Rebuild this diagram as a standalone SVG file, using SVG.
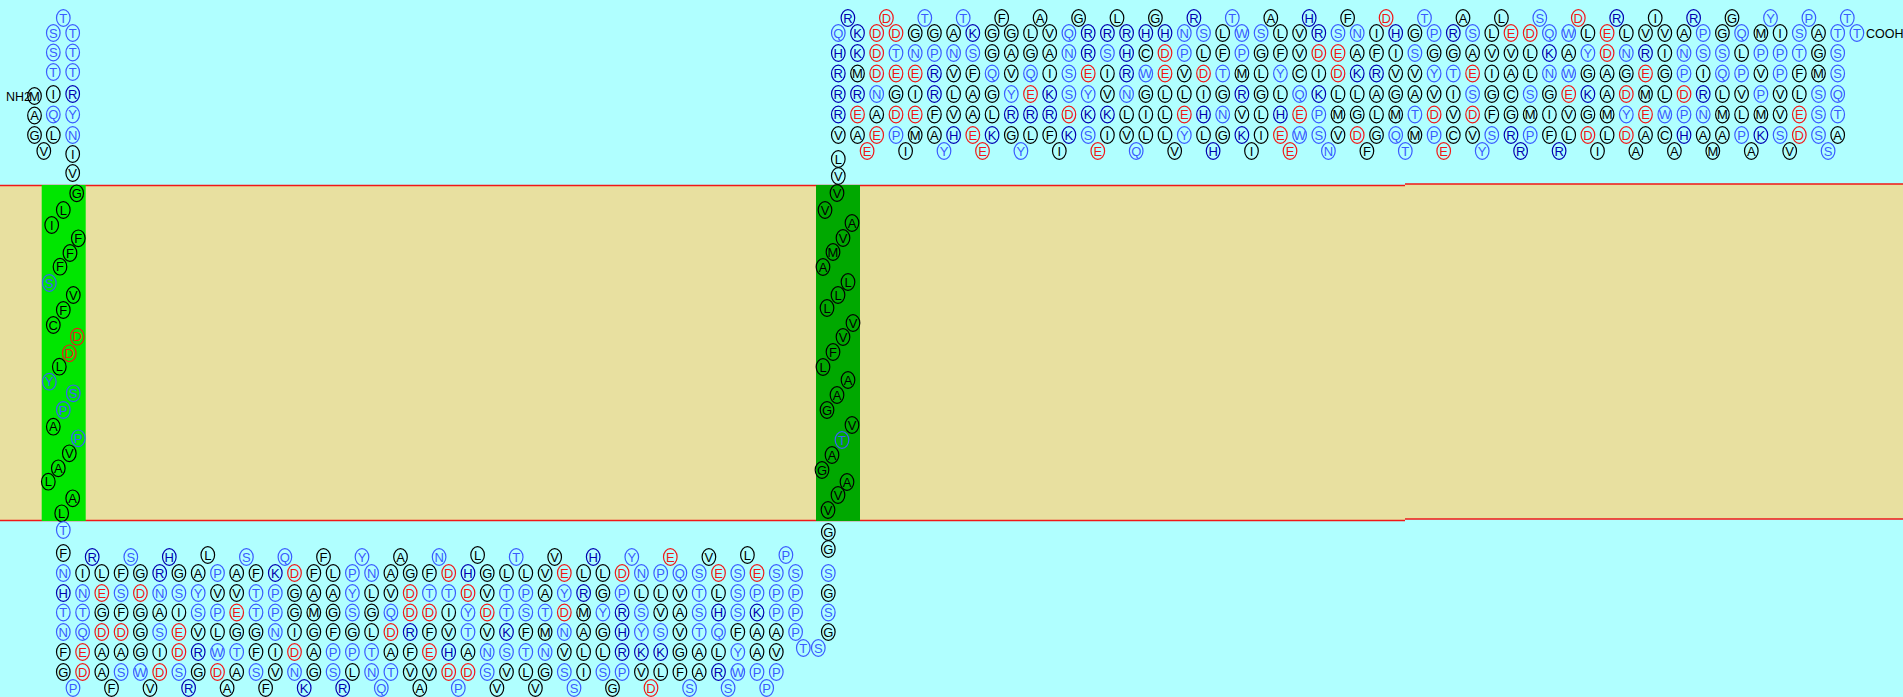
<svg xmlns="http://www.w3.org/2000/svg" xmlns:xlink="http://www.w3.org/1999/xlink" width="1903" height="697" viewBox="0 0 1903 697">
<style>
text{font-family:"Liberation Sans",Arial,sans-serif;font-size:13px;text-anchor:middle}
.k use{stroke:#000}.k text{fill:#000}
.b use{stroke:#3a5cff}.b text{fill:#3a5cff}
.d use{stroke:#0000b0}.d text{fill:#0000b0}
.r use{stroke:#f01818}.r text{fill:#f01818}
.lbl{text-anchor:start;fill:#000;font-size:12.5px}
</style>
<defs><ellipse id="o" rx="6.8" ry="8.3" fill="none" stroke-width="1.2"/></defs>
<g id="background">
<rect x="0" y="0" width="1903" height="697" fill="#b0ffff"/>
<rect x="0" y="185.5" width="1405" height="335" fill="#e8e0a0"/>
<rect x="1405" y="184" width="498" height="335" fill="#e8e0a0"/>
<path d="M0 185.5H1405M1405 184H1903M0 520.5H1405M1405 519H1903" stroke="#f01818" stroke-width="1.5" fill="none"/>
<rect id="tm1" x="41.7" y="185" width="44" height="336" fill="#00e600"/>
<rect id="tm2" x="816" y="185" width="44" height="336" fill="#00a800"/>
</g>
<g id="connectors"></g>
<g id="labels"><text class="lbl" x="6" y="101">NH2</text><text class="lbl" x="1866" y="38">COOH</text></g>
<g id="nterm">
<g id="n1" class="k" transform="translate(34.5 96)"><use href="#o"/><text y="4.5">M</text></g>
<g id="n2" class="k" transform="translate(34.5 115.5)"><use href="#o"/><text y="4.5">A</text></g>
<g id="n3" class="k" transform="translate(34.5 135)"><use href="#o"/><text y="4.5">G</text></g>
<g id="n4" class="k" transform="translate(43.8 151)"><use href="#o"/><text y="4.5">V</text></g>
<g id="n5" class="k" transform="translate(53.3 135)"><use href="#o"/><text y="4.5">L</text></g>
<g id="n6" class="b" transform="translate(53.3 114.5)"><use href="#o"/><text y="4.5">Q</text></g>
<g id="n7" class="k" transform="translate(53.3 94)"><use href="#o"/><text y="4.5">I</text></g>
<g id="n8" class="b" transform="translate(53.3 72)"><use href="#o"/><text y="4.5">T</text></g>
<g id="n9" class="b" transform="translate(53.3 52.5)"><use href="#o"/><text y="4.5">S</text></g>
<g id="n10" class="b" transform="translate(53.3 33)"><use href="#o"/><text y="4.5">S</text></g>
<g id="n11" class="b" transform="translate(63.3 18)"><use href="#o"/><text y="4.5">T</text></g>
<g id="n12" class="b" transform="translate(72.7 33)"><use href="#o"/><text y="4.5">T</text></g>
<g id="n13" class="b" transform="translate(72.7 52.5)"><use href="#o"/><text y="4.5">T</text></g>
<g id="n14" class="b" transform="translate(72.7 72)"><use href="#o"/><text y="4.5">T</text></g>
<g id="n15" class="d" transform="translate(72.7 94)"><use href="#o"/><text y="4.5">R</text></g>
<g id="n16" class="b" transform="translate(72.7 114.5)"><use href="#o"/><text y="4.5">Y</text></g>
<g id="n17" class="b" transform="translate(72.7 135)"><use href="#o"/><text y="4.5">N</text></g>
<g id="n18" class="k" transform="translate(72.7 154)"><use href="#o"/><text y="4.5">I</text></g>
<g id="n19" class="k" transform="translate(72.7 173)"><use href="#o"/><text y="4.5">V</text></g>
</g>
<g id="helix1">
<g id="h1_1" class="k" transform="translate(76.7 193.3)"><use href="#o"/><text y="4.5">G</text></g>
<g id="h1_2" class="k" transform="translate(63.3 210)"><use href="#o"/><text y="4.5">L</text></g>
<g id="h1_3" class="k" transform="translate(51.7 225)"><use href="#o"/><text y="4.5">I</text></g>
<g id="h1_4" class="k" transform="translate(78.3 238.3)"><use href="#o"/><text y="4.5">F</text></g>
<g id="h1_5" class="k" transform="translate(70 253)"><use href="#o"/><text y="4.5">F</text></g>
<g id="h1_6" class="k" transform="translate(60 266.7)"><use href="#o"/><text y="4.5">F</text></g>
<g id="h1_7" class="b" transform="translate(49.3 283)"><use href="#o"/><text y="4.5">S</text></g>
<g id="h1_8" class="k" transform="translate(73.3 295)"><use href="#o"/><text y="4.5">V</text></g>
<g id="h1_9" class="k" transform="translate(63.3 310)"><use href="#o"/><text y="4.5">F</text></g>
<g id="h1_10" class="k" transform="translate(53.3 325)"><use href="#o"/><text y="4.5">C</text></g>
<g id="h1_11" class="r" transform="translate(77.3 336.7)"><use href="#o"/><text y="4.5">D</text></g>
<g id="h1_12" class="r" transform="translate(69.3 353.3)"><use href="#o"/><text y="4.5">D</text></g>
<g id="h1_13" class="k" transform="translate(59.3 366.7)"><use href="#o"/><text y="4.5">L</text></g>
<g id="h1_14" class="b" transform="translate(49.3 381.7)"><use href="#o"/><text y="4.5">Y</text></g>
<g id="h1_15" class="b" transform="translate(73.3 393.3)"><use href="#o"/><text y="4.5">S</text></g>
<g id="h1_16" class="b" transform="translate(63.3 410)"><use href="#o"/><text y="4.5">P</text></g>
<g id="h1_17" class="k" transform="translate(53.3 426.7)"><use href="#o"/><text y="4.5">A</text></g>
<g id="h1_18" class="b" transform="translate(78.3 438.3)"><use href="#o"/><text y="4.5">P</text></g>
<g id="h1_19" class="k" transform="translate(69.3 453.3)"><use href="#o"/><text y="4.5">V</text></g>
<g id="h1_20" class="k" transform="translate(58.3 468.3)"><use href="#o"/><text y="4.5">A</text></g>
<g id="h1_21" class="k" transform="translate(48.3 481.7)"><use href="#o"/><text y="4.5">L</text></g>
<g id="h1_22" class="k" transform="translate(72.7 498.3)"><use href="#o"/><text y="4.5">A</text></g>
<g id="h1_23" class="k" transform="translate(61.7 513.3)"><use href="#o"/><text y="4.5">L</text></g>
</g>
<g id="loop">
<g id="i1" class="b" transform="translate(63.3 530)"><use href="#o"/><text y="4.5">T</text></g>
<g id="i2" class="k" transform="translate(63.3 553)"><use href="#o"/><text y="4.5">F</text></g>
<g id="i3" class="b" transform="translate(63.3 573)"><use href="#o"/><text y="4.5">N</text></g>
<g id="i4" class="d" transform="translate(63.3 593)"><use href="#o"/><text y="4.5">H</text></g>
<g id="i5" class="b" transform="translate(63.3 612.5)"><use href="#o"/><text y="4.5">T</text></g>
<g id="i6" class="b" transform="translate(63.3 632)"><use href="#o"/><text y="4.5">N</text></g>
<g id="i7" class="k" transform="translate(63.3 652)"><use href="#o"/><text y="4.5">F</text></g>
<g id="i8" class="k" transform="translate(63.3 672)"><use href="#o"/><text y="4.5">G</text></g>
<g id="i9" class="b" transform="translate(73 688)"><use href="#o"/><text y="4.5">P</text></g>
<g id="i10" class="r" transform="translate(82.6 672)"><use href="#o"/><text y="4.5">D</text></g>
<g id="i11" class="r" transform="translate(82.6 652)"><use href="#o"/><text y="4.5">E</text></g>
<g id="i12" class="b" transform="translate(82.6 632)"><use href="#o"/><text y="4.5">Q</text></g>
<g id="i13" class="b" transform="translate(82.6 612.5)"><use href="#o"/><text y="4.5">T</text></g>
<g id="i14" class="b" transform="translate(82.6 593)"><use href="#o"/><text y="4.5">N</text></g>
<g id="i15" class="k" transform="translate(82.6 573)"><use href="#o"/><text y="4.5">I</text></g>
<g id="i16" class="d" transform="translate(92.2 557)"><use href="#o"/><text y="4.5">R</text></g>
<g id="i17" class="k" transform="translate(101.8 573)"><use href="#o"/><text y="4.5">L</text></g>
<g id="i18" class="r" transform="translate(101.8 593)"><use href="#o"/><text y="4.5">E</text></g>
<g id="i19" class="k" transform="translate(101.8 612.5)"><use href="#o"/><text y="4.5">G</text></g>
<g id="i20" class="r" transform="translate(101.8 632)"><use href="#o"/><text y="4.5">D</text></g>
<g id="i21" class="k" transform="translate(101.8 652)"><use href="#o"/><text y="4.5">A</text></g>
<g id="i22" class="k" transform="translate(101.8 672)"><use href="#o"/><text y="4.5">A</text></g>
<g id="i23" class="k" transform="translate(111.5 688)"><use href="#o"/><text y="4.5">F</text></g>
<g id="i24" class="b" transform="translate(121.1 672)"><use href="#o"/><text y="4.5">S</text></g>
<g id="i25" class="k" transform="translate(121.1 652)"><use href="#o"/><text y="4.5">A</text></g>
<g id="i26" class="r" transform="translate(121.1 632)"><use href="#o"/><text y="4.5">D</text></g>
<g id="i27" class="k" transform="translate(121.1 612.5)"><use href="#o"/><text y="4.5">F</text></g>
<g id="i28" class="b" transform="translate(121.1 593)"><use href="#o"/><text y="4.5">S</text></g>
<g id="i29" class="k" transform="translate(121.1 573)"><use href="#o"/><text y="4.5">F</text></g>
<g id="i30" class="b" transform="translate(130.8 557)"><use href="#o"/><text y="4.5">S</text></g>
<g id="i31" class="k" transform="translate(140.4 573)"><use href="#o"/><text y="4.5">G</text></g>
<g id="i32" class="r" transform="translate(140.4 593)"><use href="#o"/><text y="4.5">D</text></g>
<g id="i33" class="k" transform="translate(140.4 612.5)"><use href="#o"/><text y="4.5">G</text></g>
<g id="i34" class="k" transform="translate(140.4 632)"><use href="#o"/><text y="4.5">G</text></g>
<g id="i35" class="k" transform="translate(140.4 652)"><use href="#o"/><text y="4.5">G</text></g>
<g id="i36" class="b" transform="translate(140.4 672)"><use href="#o"/><text y="4.5">W</text></g>
<g id="i37" class="k" transform="translate(150 688)"><use href="#o"/><text y="4.5">V</text></g>
<g id="i38" class="r" transform="translate(159.7 672)"><use href="#o"/><text y="4.5">D</text></g>
<g id="i39" class="k" transform="translate(159.7 652)"><use href="#o"/><text y="4.5">I</text></g>
<g id="i40" class="b" transform="translate(159.7 632)"><use href="#o"/><text y="4.5">S</text></g>
<g id="i41" class="k" transform="translate(159.7 612.5)"><use href="#o"/><text y="4.5">A</text></g>
<g id="i42" class="b" transform="translate(159.7 593)"><use href="#o"/><text y="4.5">N</text></g>
<g id="i43" class="d" transform="translate(159.7 573)"><use href="#o"/><text y="4.5">R</text></g>
<g id="i44" class="d" transform="translate(169.3 557)"><use href="#o"/><text y="4.5">H</text></g>
<g id="i45" class="k" transform="translate(178.9 573)"><use href="#o"/><text y="4.5">G</text></g>
<g id="i46" class="b" transform="translate(178.9 593)"><use href="#o"/><text y="4.5">S</text></g>
<g id="i47" class="k" transform="translate(178.9 612.5)"><use href="#o"/><text y="4.5">I</text></g>
<g id="i48" class="r" transform="translate(178.9 632)"><use href="#o"/><text y="4.5">E</text></g>
<g id="i49" class="r" transform="translate(178.9 652)"><use href="#o"/><text y="4.5">D</text></g>
<g id="i50" class="b" transform="translate(178.9 672)"><use href="#o"/><text y="4.5">S</text></g>
<g id="i51" class="d" transform="translate(188.6 688)"><use href="#o"/><text y="4.5">R</text></g>
<g id="i52" class="k" transform="translate(198.2 672)"><use href="#o"/><text y="4.5">G</text></g>
<g id="i53" class="d" transform="translate(198.2 652)"><use href="#o"/><text y="4.5">R</text></g>
<g id="i54" class="k" transform="translate(198.2 632)"><use href="#o"/><text y="4.5">V</text></g>
<g id="i55" class="b" transform="translate(198.2 612.5)"><use href="#o"/><text y="4.5">S</text></g>
<g id="i56" class="b" transform="translate(198.2 593)"><use href="#o"/><text y="4.5">Y</text></g>
<g id="i57" class="k" transform="translate(198.2 573)"><use href="#o"/><text y="4.5">A</text></g>
<g id="i58" class="k" transform="translate(207.8 555)"><use href="#o"/><text y="4.5">L</text></g>
<g id="i59" class="b" transform="translate(217.5 573)"><use href="#o"/><text y="4.5">P</text></g>
<g id="i60" class="k" transform="translate(217.5 593)"><use href="#o"/><text y="4.5">V</text></g>
<g id="i61" class="b" transform="translate(217.5 612.5)"><use href="#o"/><text y="4.5">P</text></g>
<g id="i62" class="k" transform="translate(217.5 632)"><use href="#o"/><text y="4.5">L</text></g>
<g id="i63" class="b" transform="translate(217.5 652)"><use href="#o"/><text y="4.5">W</text></g>
<g id="i64" class="r" transform="translate(217.5 672)"><use href="#o"/><text y="4.5">D</text></g>
<g id="i65" class="k" transform="translate(227.1 688)"><use href="#o"/><text y="4.5">A</text></g>
<g id="i66" class="k" transform="translate(236.7 672)"><use href="#o"/><text y="4.5">A</text></g>
<g id="i67" class="b" transform="translate(236.7 652)"><use href="#o"/><text y="4.5">T</text></g>
<g id="i68" class="k" transform="translate(236.7 632)"><use href="#o"/><text y="4.5">G</text></g>
<g id="i69" class="r" transform="translate(236.7 612.5)"><use href="#o"/><text y="4.5">E</text></g>
<g id="i70" class="k" transform="translate(236.7 593)"><use href="#o"/><text y="4.5">V</text></g>
<g id="i71" class="k" transform="translate(236.7 573)"><use href="#o"/><text y="4.5">A</text></g>
<g id="i72" class="b" transform="translate(246.4 557)"><use href="#o"/><text y="4.5">S</text></g>
<g id="i73" class="k" transform="translate(256 573)"><use href="#o"/><text y="4.5">F</text></g>
<g id="i74" class="b" transform="translate(256 593)"><use href="#o"/><text y="4.5">T</text></g>
<g id="i75" class="b" transform="translate(256 612.5)"><use href="#o"/><text y="4.5">T</text></g>
<g id="i76" class="k" transform="translate(256 632)"><use href="#o"/><text y="4.5">G</text></g>
<g id="i77" class="k" transform="translate(256 652)"><use href="#o"/><text y="4.5">F</text></g>
<g id="i78" class="b" transform="translate(256 672)"><use href="#o"/><text y="4.5">S</text></g>
<g id="i79" class="k" transform="translate(265.6 688)"><use href="#o"/><text y="4.5">F</text></g>
<g id="i80" class="k" transform="translate(275.3 672)"><use href="#o"/><text y="4.5">V</text></g>
<g id="i81" class="k" transform="translate(275.3 652)"><use href="#o"/><text y="4.5">I</text></g>
<g id="i82" class="b" transform="translate(275.3 632)"><use href="#o"/><text y="4.5">N</text></g>
<g id="i83" class="b" transform="translate(275.3 612.5)"><use href="#o"/><text y="4.5">P</text></g>
<g id="i84" class="b" transform="translate(275.3 593)"><use href="#o"/><text y="4.5">P</text></g>
<g id="i85" class="d" transform="translate(275.3 573)"><use href="#o"/><text y="4.5">K</text></g>
<g id="i86" class="b" transform="translate(284.9 557)"><use href="#o"/><text y="4.5">Q</text></g>
<g id="i87" class="r" transform="translate(294.5 573)"><use href="#o"/><text y="4.5">D</text></g>
<g id="i88" class="k" transform="translate(294.5 593)"><use href="#o"/><text y="4.5">G</text></g>
<g id="i89" class="k" transform="translate(294.5 612.5)"><use href="#o"/><text y="4.5">G</text></g>
<g id="i90" class="k" transform="translate(294.5 632)"><use href="#o"/><text y="4.5">I</text></g>
<g id="i91" class="r" transform="translate(294.5 652)"><use href="#o"/><text y="4.5">D</text></g>
<g id="i92" class="b" transform="translate(294.5 672)"><use href="#o"/><text y="4.5">N</text></g>
<g id="i93" class="d" transform="translate(304.2 688)"><use href="#o"/><text y="4.5">K</text></g>
<g id="i94" class="k" transform="translate(313.8 672)"><use href="#o"/><text y="4.5">G</text></g>
<g id="i95" class="k" transform="translate(313.8 652)"><use href="#o"/><text y="4.5">A</text></g>
<g id="i96" class="k" transform="translate(313.8 632)"><use href="#o"/><text y="4.5">G</text></g>
<g id="i97" class="k" transform="translate(313.8 612.5)"><use href="#o"/><text y="4.5">M</text></g>
<g id="i98" class="k" transform="translate(313.8 593)"><use href="#o"/><text y="4.5">A</text></g>
<g id="i99" class="k" transform="translate(313.8 573)"><use href="#o"/><text y="4.5">F</text></g>
<g id="i100" class="k" transform="translate(323.5 557)"><use href="#o"/><text y="4.5">F</text></g>
<g id="i101" class="k" transform="translate(333.1 573)"><use href="#o"/><text y="4.5">L</text></g>
<g id="i102" class="k" transform="translate(333.1 593)"><use href="#o"/><text y="4.5">A</text></g>
<g id="i103" class="k" transform="translate(333.1 612.5)"><use href="#o"/><text y="4.5">G</text></g>
<g id="i104" class="k" transform="translate(333.1 632)"><use href="#o"/><text y="4.5">F</text></g>
<g id="i105" class="b" transform="translate(333.1 652)"><use href="#o"/><text y="4.5">P</text></g>
<g id="i106" class="b" transform="translate(333.1 672)"><use href="#o"/><text y="4.5">S</text></g>
<g id="i107" class="d" transform="translate(342.7 688)"><use href="#o"/><text y="4.5">R</text></g>
<g id="i108" class="k" transform="translate(352.4 672)"><use href="#o"/><text y="4.5">L</text></g>
<g id="i109" class="b" transform="translate(352.4 652)"><use href="#o"/><text y="4.5">P</text></g>
<g id="i110" class="k" transform="translate(352.4 632)"><use href="#o"/><text y="4.5">G</text></g>
<g id="i111" class="b" transform="translate(352.4 612.5)"><use href="#o"/><text y="4.5">S</text></g>
<g id="i112" class="b" transform="translate(352.4 593)"><use href="#o"/><text y="4.5">Y</text></g>
<g id="i113" class="b" transform="translate(352.4 573)"><use href="#o"/><text y="4.5">P</text></g>
<g id="i114" class="b" transform="translate(362 557)"><use href="#o"/><text y="4.5">Y</text></g>
<g id="i115" class="b" transform="translate(371.6 573)"><use href="#o"/><text y="4.5">N</text></g>
<g id="i116" class="k" transform="translate(371.6 593)"><use href="#o"/><text y="4.5">L</text></g>
<g id="i117" class="k" transform="translate(371.6 612.5)"><use href="#o"/><text y="4.5">G</text></g>
<g id="i118" class="k" transform="translate(371.6 632)"><use href="#o"/><text y="4.5">L</text></g>
<g id="i119" class="b" transform="translate(371.6 652)"><use href="#o"/><text y="4.5">T</text></g>
<g id="i120" class="b" transform="translate(371.6 672)"><use href="#o"/><text y="4.5">N</text></g>
<g id="i121" class="b" transform="translate(381.3 688)"><use href="#o"/><text y="4.5">Q</text></g>
<g id="i122" class="b" transform="translate(390.9 672)"><use href="#o"/><text y="4.5">T</text></g>
<g id="i123" class="k" transform="translate(390.9 652)"><use href="#o"/><text y="4.5">A</text></g>
<g id="i124" class="r" transform="translate(390.9 632)"><use href="#o"/><text y="4.5">D</text></g>
<g id="i125" class="b" transform="translate(390.9 612.5)"><use href="#o"/><text y="4.5">Q</text></g>
<g id="i126" class="k" transform="translate(390.9 593)"><use href="#o"/><text y="4.5">V</text></g>
<g id="i127" class="k" transform="translate(390.9 573)"><use href="#o"/><text y="4.5">A</text></g>
<g id="i128" class="k" transform="translate(400.5 557)"><use href="#o"/><text y="4.5">A</text></g>
<g id="i129" class="k" transform="translate(410.2 573)"><use href="#o"/><text y="4.5">G</text></g>
<g id="i130" class="r" transform="translate(410.2 593)"><use href="#o"/><text y="4.5">D</text></g>
<g id="i131" class="r" transform="translate(410.2 612.5)"><use href="#o"/><text y="4.5">D</text></g>
<g id="i132" class="d" transform="translate(410.2 632)"><use href="#o"/><text y="4.5">R</text></g>
<g id="i133" class="k" transform="translate(410.2 652)"><use href="#o"/><text y="4.5">F</text></g>
<g id="i134" class="k" transform="translate(410.2 672)"><use href="#o"/><text y="4.5">V</text></g>
<g id="i135" class="k" transform="translate(419.8 688)"><use href="#o"/><text y="4.5">A</text></g>
<g id="i136" class="k" transform="translate(429.4 672)"><use href="#o"/><text y="4.5">V</text></g>
<g id="i137" class="r" transform="translate(429.4 652)"><use href="#o"/><text y="4.5">E</text></g>
<g id="i138" class="k" transform="translate(429.4 632)"><use href="#o"/><text y="4.5">F</text></g>
<g id="i139" class="r" transform="translate(429.4 612.5)"><use href="#o"/><text y="4.5">D</text></g>
<g id="i140" class="b" transform="translate(429.4 593)"><use href="#o"/><text y="4.5">T</text></g>
<g id="i141" class="k" transform="translate(429.4 573)"><use href="#o"/><text y="4.5">F</text></g>
<g id="i142" class="b" transform="translate(439.1 557)"><use href="#o"/><text y="4.5">N</text></g>
<g id="i143" class="r" transform="translate(448.7 573)"><use href="#o"/><text y="4.5">D</text></g>
<g id="i144" class="b" transform="translate(448.7 593)"><use href="#o"/><text y="4.5">T</text></g>
<g id="i145" class="k" transform="translate(448.7 612.5)"><use href="#o"/><text y="4.5">I</text></g>
<g id="i146" class="k" transform="translate(448.7 632)"><use href="#o"/><text y="4.5">V</text></g>
<g id="i147" class="d" transform="translate(448.7 652)"><use href="#o"/><text y="4.5">H</text></g>
<g id="i148" class="r" transform="translate(448.7 672)"><use href="#o"/><text y="4.5">D</text></g>
<g id="i149" class="b" transform="translate(458.3 688)"><use href="#o"/><text y="4.5">P</text></g>
<g id="i150" class="r" transform="translate(468 672)"><use href="#o"/><text y="4.5">D</text></g>
<g id="i151" class="k" transform="translate(468 652)"><use href="#o"/><text y="4.5">A</text></g>
<g id="i152" class="b" transform="translate(468 632)"><use href="#o"/><text y="4.5">T</text></g>
<g id="i153" class="b" transform="translate(468 612.5)"><use href="#o"/><text y="4.5">Y</text></g>
<g id="i154" class="r" transform="translate(468 593)"><use href="#o"/><text y="4.5">D</text></g>
<g id="i155" class="d" transform="translate(468 573)"><use href="#o"/><text y="4.5">H</text></g>
<g id="i156" class="k" transform="translate(477.6 555)"><use href="#o"/><text y="4.5">L</text></g>
<g id="i157" class="k" transform="translate(487.2 573)"><use href="#o"/><text y="4.5">G</text></g>
<g id="i158" class="k" transform="translate(487.2 593)"><use href="#o"/><text y="4.5">V</text></g>
<g id="i159" class="r" transform="translate(487.2 612.5)"><use href="#o"/><text y="4.5">D</text></g>
<g id="i160" class="k" transform="translate(487.2 632)"><use href="#o"/><text y="4.5">V</text></g>
<g id="i161" class="b" transform="translate(487.2 652)"><use href="#o"/><text y="4.5">N</text></g>
<g id="i162" class="b" transform="translate(487.2 672)"><use href="#o"/><text y="4.5">S</text></g>
<g id="i163" class="k" transform="translate(496.9 688)"><use href="#o"/><text y="4.5">V</text></g>
<g id="i164" class="k" transform="translate(506.5 672)"><use href="#o"/><text y="4.5">V</text></g>
<g id="i165" class="b" transform="translate(506.5 652)"><use href="#o"/><text y="4.5">S</text></g>
<g id="i166" class="d" transform="translate(506.5 632)"><use href="#o"/><text y="4.5">K</text></g>
<g id="i167" class="b" transform="translate(506.5 612.5)"><use href="#o"/><text y="4.5">T</text></g>
<g id="i168" class="b" transform="translate(506.5 593)"><use href="#o"/><text y="4.5">T</text></g>
<g id="i169" class="k" transform="translate(506.5 573)"><use href="#o"/><text y="4.5">L</text></g>
<g id="i170" class="b" transform="translate(516.2 557)"><use href="#o"/><text y="4.5">T</text></g>
<g id="i171" class="k" transform="translate(525.8 573)"><use href="#o"/><text y="4.5">L</text></g>
<g id="i172" class="b" transform="translate(525.8 593)"><use href="#o"/><text y="4.5">P</text></g>
<g id="i173" class="b" transform="translate(525.8 612.5)"><use href="#o"/><text y="4.5">S</text></g>
<g id="i174" class="k" transform="translate(525.8 632)"><use href="#o"/><text y="4.5">F</text></g>
<g id="i175" class="b" transform="translate(525.8 652)"><use href="#o"/><text y="4.5">T</text></g>
<g id="i176" class="k" transform="translate(525.8 672)"><use href="#o"/><text y="4.5">L</text></g>
<g id="i177" class="k" transform="translate(535.4 688)"><use href="#o"/><text y="4.5">V</text></g>
<g id="i178" class="k" transform="translate(545.1 672)"><use href="#o"/><text y="4.5">G</text></g>
<g id="i179" class="b" transform="translate(545.1 652)"><use href="#o"/><text y="4.5">N</text></g>
<g id="i180" class="k" transform="translate(545.1 632)"><use href="#o"/><text y="4.5">M</text></g>
<g id="i181" class="b" transform="translate(545.1 612.5)"><use href="#o"/><text y="4.5">T</text></g>
<g id="i182" class="k" transform="translate(545.1 593)"><use href="#o"/><text y="4.5">A</text></g>
<g id="i183" class="k" transform="translate(545.1 573)"><use href="#o"/><text y="4.5">V</text></g>
<g id="i184" class="k" transform="translate(554.7 557)"><use href="#o"/><text y="4.5">V</text></g>
<g id="i185" class="r" transform="translate(564.3 573)"><use href="#o"/><text y="4.5">E</text></g>
<g id="i186" class="b" transform="translate(564.3 593)"><use href="#o"/><text y="4.5">Y</text></g>
<g id="i187" class="r" transform="translate(564.3 612.5)"><use href="#o"/><text y="4.5">D</text></g>
<g id="i188" class="b" transform="translate(564.3 632)"><use href="#o"/><text y="4.5">N</text></g>
<g id="i189" class="k" transform="translate(564.3 652)"><use href="#o"/><text y="4.5">V</text></g>
<g id="i190" class="b" transform="translate(564.3 672)"><use href="#o"/><text y="4.5">S</text></g>
<g id="i191" class="b" transform="translate(574 688)"><use href="#o"/><text y="4.5">S</text></g>
<g id="i192" class="k" transform="translate(583.6 672)"><use href="#o"/><text y="4.5">I</text></g>
<g id="i193" class="k" transform="translate(583.6 652)"><use href="#o"/><text y="4.5">L</text></g>
<g id="i194" class="k" transform="translate(583.6 632)"><use href="#o"/><text y="4.5">A</text></g>
<g id="i195" class="k" transform="translate(583.6 612.5)"><use href="#o"/><text y="4.5">M</text></g>
<g id="i196" class="d" transform="translate(583.6 593)"><use href="#o"/><text y="4.5">R</text></g>
<g id="i197" class="k" transform="translate(583.6 573)"><use href="#o"/><text y="4.5">L</text></g>
<g id="i198" class="d" transform="translate(593.2 557)"><use href="#o"/><text y="4.5">H</text></g>
<g id="i199" class="k" transform="translate(602.9 573)"><use href="#o"/><text y="4.5">L</text></g>
<g id="i200" class="k" transform="translate(602.9 593)"><use href="#o"/><text y="4.5">G</text></g>
<g id="i201" class="b" transform="translate(602.9 612.5)"><use href="#o"/><text y="4.5">Y</text></g>
<g id="i202" class="k" transform="translate(602.9 632)"><use href="#o"/><text y="4.5">G</text></g>
<g id="i203" class="k" transform="translate(602.9 652)"><use href="#o"/><text y="4.5">L</text></g>
<g id="i204" class="b" transform="translate(602.9 672)"><use href="#o"/><text y="4.5">S</text></g>
<g id="i205" class="k" transform="translate(612.5 688)"><use href="#o"/><text y="4.5">G</text></g>
<g id="i206" class="b" transform="translate(622.1 672)"><use href="#o"/><text y="4.5">P</text></g>
<g id="i207" class="d" transform="translate(622.1 652)"><use href="#o"/><text y="4.5">R</text></g>
<g id="i208" class="d" transform="translate(622.1 632)"><use href="#o"/><text y="4.5">H</text></g>
<g id="i209" class="d" transform="translate(622.1 612.5)"><use href="#o"/><text y="4.5">R</text></g>
<g id="i210" class="b" transform="translate(622.1 593)"><use href="#o"/><text y="4.5">P</text></g>
<g id="i211" class="r" transform="translate(622.1 573)"><use href="#o"/><text y="4.5">D</text></g>
<g id="i212" class="b" transform="translate(631.8 557)"><use href="#o"/><text y="4.5">Y</text></g>
<g id="i213" class="b" transform="translate(641.4 573)"><use href="#o"/><text y="4.5">N</text></g>
<g id="i214" class="k" transform="translate(641.4 593)"><use href="#o"/><text y="4.5">L</text></g>
<g id="i215" class="b" transform="translate(641.4 612.5)"><use href="#o"/><text y="4.5">S</text></g>
<g id="i216" class="b" transform="translate(641.4 632)"><use href="#o"/><text y="4.5">Y</text></g>
<g id="i217" class="d" transform="translate(641.4 652)"><use href="#o"/><text y="4.5">K</text></g>
<g id="i218" class="k" transform="translate(641.4 672)"><use href="#o"/><text y="4.5">V</text></g>
<g id="i219" class="r" transform="translate(651 688)"><use href="#o"/><text y="4.5">D</text></g>
<g id="i220" class="k" transform="translate(660.7 672)"><use href="#o"/><text y="4.5">L</text></g>
<g id="i221" class="d" transform="translate(660.7 652)"><use href="#o"/><text y="4.5">K</text></g>
<g id="i222" class="b" transform="translate(660.7 632)"><use href="#o"/><text y="4.5">S</text></g>
<g id="i223" class="k" transform="translate(660.7 612.5)"><use href="#o"/><text y="4.5">V</text></g>
<g id="i224" class="k" transform="translate(660.7 593)"><use href="#o"/><text y="4.5">L</text></g>
<g id="i225" class="b" transform="translate(660.7 573)"><use href="#o"/><text y="4.5">P</text></g>
<g id="i226" class="r" transform="translate(670.3 557)"><use href="#o"/><text y="4.5">E</text></g>
<g id="i227" class="b" transform="translate(679.9 573)"><use href="#o"/><text y="4.5">Q</text></g>
<g id="i228" class="k" transform="translate(679.9 593)"><use href="#o"/><text y="4.5">V</text></g>
<g id="i229" class="k" transform="translate(679.9 612.5)"><use href="#o"/><text y="4.5">A</text></g>
<g id="i230" class="k" transform="translate(679.9 632)"><use href="#o"/><text y="4.5">V</text></g>
<g id="i231" class="k" transform="translate(679.9 652)"><use href="#o"/><text y="4.5">G</text></g>
<g id="i232" class="k" transform="translate(679.9 672)"><use href="#o"/><text y="4.5">F</text></g>
<g id="i233" class="b" transform="translate(689.6 688)"><use href="#o"/><text y="4.5">S</text></g>
<g id="i234" class="k" transform="translate(699.2 672)"><use href="#o"/><text y="4.5">A</text></g>
<g id="i235" class="k" transform="translate(699.2 652)"><use href="#o"/><text y="4.5">A</text></g>
<g id="i236" class="b" transform="translate(699.2 632)"><use href="#o"/><text y="4.5">T</text></g>
<g id="i237" class="b" transform="translate(699.2 612.5)"><use href="#o"/><text y="4.5">S</text></g>
<g id="i238" class="b" transform="translate(699.2 593)"><use href="#o"/><text y="4.5">T</text></g>
<g id="i239" class="b" transform="translate(699.2 573)"><use href="#o"/><text y="4.5">S</text></g>
<g id="i240" class="k" transform="translate(708.9 557)"><use href="#o"/><text y="4.5">V</text></g>
<g id="i241" class="r" transform="translate(718.5 573)"><use href="#o"/><text y="4.5">E</text></g>
<g id="i242" class="k" transform="translate(718.5 593)"><use href="#o"/><text y="4.5">L</text></g>
<g id="i243" class="d" transform="translate(718.5 612.5)"><use href="#o"/><text y="4.5">H</text></g>
<g id="i244" class="b" transform="translate(718.5 632)"><use href="#o"/><text y="4.5">Q</text></g>
<g id="i245" class="k" transform="translate(718.5 652)"><use href="#o"/><text y="4.5">L</text></g>
<g id="i246" class="d" transform="translate(718.5 672)"><use href="#o"/><text y="4.5">R</text></g>
<g id="i247" class="b" transform="translate(728.1 688)"><use href="#o"/><text y="4.5">S</text></g>
<g id="i248" class="b" transform="translate(737.8 672)"><use href="#o"/><text y="4.5">W</text></g>
<g id="i249" class="b" transform="translate(737.8 652)"><use href="#o"/><text y="4.5">Y</text></g>
<g id="i250" class="k" transform="translate(737.8 632)"><use href="#o"/><text y="4.5">F</text></g>
<g id="i251" class="b" transform="translate(737.8 612.5)"><use href="#o"/><text y="4.5">S</text></g>
<g id="i252" class="b" transform="translate(737.8 593)"><use href="#o"/><text y="4.5">S</text></g>
<g id="i253" class="b" transform="translate(737.8 573)"><use href="#o"/><text y="4.5">S</text></g>
<g id="i254" class="k" transform="translate(747.4 555)"><use href="#o"/><text y="4.5">L</text></g>
<g id="i255" class="r" transform="translate(757 573)"><use href="#o"/><text y="4.5">E</text></g>
<g id="i256" class="b" transform="translate(757 593)"><use href="#o"/><text y="4.5">P</text></g>
<g id="i257" class="d" transform="translate(757 612.5)"><use href="#o"/><text y="4.5">K</text></g>
<g id="i258" class="k" transform="translate(757 632)"><use href="#o"/><text y="4.5">A</text></g>
<g id="i259" class="k" transform="translate(757 652)"><use href="#o"/><text y="4.5">A</text></g>
<g id="i260" class="b" transform="translate(757 672)"><use href="#o"/><text y="4.5">P</text></g>
<g id="i261" class="b" transform="translate(766.7 688)"><use href="#o"/><text y="4.5">P</text></g>
<g id="i262" class="b" transform="translate(776.3 672)"><use href="#o"/><text y="4.5">P</text></g>
<g id="i263" class="k" transform="translate(776.3 652)"><use href="#o"/><text y="4.5">V</text></g>
<g id="i264" class="k" transform="translate(776.3 632)"><use href="#o"/><text y="4.5">A</text></g>
<g id="i265" class="b" transform="translate(776.3 612.5)"><use href="#o"/><text y="4.5">P</text></g>
<g id="i266" class="b" transform="translate(776.3 593)"><use href="#o"/><text y="4.5">P</text></g>
<g id="i267" class="b" transform="translate(776.3 573)"><use href="#o"/><text y="4.5">S</text></g>
<g id="i268" class="b" transform="translate(785.9 555)"><use href="#o"/><text y="4.5">P</text></g>
<g id="i269" class="b" transform="translate(795.6 573)"><use href="#o"/><text y="4.5">S</text></g>
<g id="i270" class="b" transform="translate(795.6 593)"><use href="#o"/><text y="4.5">P</text></g>
<g id="i271" class="b" transform="translate(795.6 612.5)"><use href="#o"/><text y="4.5">P</text></g>
<g id="i272" class="b" transform="translate(795.6 632)"><use href="#o"/><text y="4.5">P</text></g>
<g id="i273" class="b" transform="translate(803.3 648)"><use href="#o"/><text y="4.5">T</text></g>
<g id="i274" class="b" transform="translate(818.3 648)"><use href="#o"/><text y="4.5">S</text></g>
<g id="i275" class="k" transform="translate(828.3 632)"><use href="#o"/><text y="4.5">G</text></g>
<g id="i276" class="b" transform="translate(828.3 612.5)"><use href="#o"/><text y="4.5">S</text></g>
<g id="i277" class="k" transform="translate(828.3 593)"><use href="#o"/><text y="4.5">G</text></g>
<g id="i278" class="b" transform="translate(828.3 573)"><use href="#o"/><text y="4.5">S</text></g>
<g id="i279" class="k" transform="translate(828.3 549)"><use href="#o"/><text y="4.5">G</text></g>
<g id="i280" class="k" transform="translate(828.3 532)"><use href="#o"/><text y="4.5">G</text></g>
</g>
<g id="helix2">
<g id="h2_1" class="k" transform="translate(828 510)"><use href="#o"/><text y="4.5">V</text></g>
<g id="h2_2" class="k" transform="translate(838 495)"><use href="#o"/><text y="4.5">V</text></g>
<g id="h2_3" class="k" transform="translate(847 482)"><use href="#o"/><text y="4.5">A</text></g>
<g id="h2_4" class="k" transform="translate(822 470)"><use href="#o"/><text y="4.5">G</text></g>
<g id="h2_5" class="k" transform="translate(832 455)"><use href="#o"/><text y="4.5">A</text></g>
<g id="h2_6" class="b" transform="translate(842 440)"><use href="#o"/><text y="4.5">T</text></g>
<g id="h2_7" class="k" transform="translate(852 425)"><use href="#o"/><text y="4.5">V</text></g>
<g id="h2_8" class="k" transform="translate(827 410)"><use href="#o"/><text y="4.5">G</text></g>
<g id="h2_9" class="k" transform="translate(837 395)"><use href="#o"/><text y="4.5">A</text></g>
<g id="h2_10" class="k" transform="translate(848 380)"><use href="#o"/><text y="4.5">A</text></g>
<g id="h2_11" class="k" transform="translate(823 367)"><use href="#o"/><text y="4.5">L</text></g>
<g id="h2_12" class="k" transform="translate(833 352)"><use href="#o"/><text y="4.5">F</text></g>
<g id="h2_13" class="k" transform="translate(843 337)"><use href="#o"/><text y="4.5">V</text></g>
<g id="h2_14" class="k" transform="translate(853 323)"><use href="#o"/><text y="4.5">V</text></g>
<g id="h2_15" class="k" transform="translate(827 308)"><use href="#o"/><text y="4.5">L</text></g>
<g id="h2_16" class="k" transform="translate(838 295)"><use href="#o"/><text y="4.5">L</text></g>
<g id="h2_17" class="k" transform="translate(848 282)"><use href="#o"/><text y="4.5">L</text></g>
<g id="h2_18" class="k" transform="translate(823 267)"><use href="#o"/><text y="4.5">A</text></g>
<g id="h2_19" class="k" transform="translate(833 252)"><use href="#o"/><text y="4.5">M</text></g>
<g id="h2_20" class="k" transform="translate(843 238)"><use href="#o"/><text y="4.5">V</text></g>
<g id="h2_21" class="k" transform="translate(852 223)"><use href="#o"/><text y="4.5">A</text></g>
<g id="h2_22" class="k" transform="translate(825 210)"><use href="#o"/><text y="4.5">V</text></g>
<g id="h2_23" class="k" transform="translate(837 193)"><use href="#o"/><text y="4.5">V</text></g>
</g>
<g id="cterm">
<g id="c1" class="k" transform="translate(838.3 176)"><use href="#o"/><text y="4.5">V</text></g>
<g id="c2" class="k" transform="translate(838.3 159)"><use href="#o"/><text y="4.5">L</text></g>
<g id="c3" class="k" transform="translate(838.3 135)"><use href="#o"/><text y="4.5">V</text></g>
<g id="c4" class="d" transform="translate(838.3 114.5)"><use href="#o"/><text y="4.5">R</text></g>
<g id="c5" class="d" transform="translate(838.3 94)"><use href="#o"/><text y="4.5">R</text></g>
<g id="c6" class="d" transform="translate(838.3 73.5)"><use href="#o"/><text y="4.5">R</text></g>
<g id="c7" class="d" transform="translate(838.3 53)"><use href="#o"/><text y="4.5">H</text></g>
<g id="c8" class="b" transform="translate(838.3 33)"><use href="#o"/><text y="4.5">Q</text></g>
<g id="c9" class="d" transform="translate(847.9 18)"><use href="#o"/><text y="4.5">R</text></g>
<g id="c10" class="d" transform="translate(857.5 33)"><use href="#o"/><text y="4.5">K</text></g>
<g id="c11" class="d" transform="translate(857.5 53)"><use href="#o"/><text y="4.5">K</text></g>
<g id="c12" class="k" transform="translate(857.5 73.5)"><use href="#o"/><text y="4.5">M</text></g>
<g id="c13" class="d" transform="translate(857.5 94)"><use href="#o"/><text y="4.5">R</text></g>
<g id="c14" class="r" transform="translate(857.5 114.5)"><use href="#o"/><text y="4.5">E</text></g>
<g id="c15" class="k" transform="translate(857.5 135)"><use href="#o"/><text y="4.5">A</text></g>
<g id="c16" class="r" transform="translate(867.1 151)"><use href="#o"/><text y="4.5">E</text></g>
<g id="c17" class="r" transform="translate(876.7 135)"><use href="#o"/><text y="4.5">E</text></g>
<g id="c18" class="k" transform="translate(876.7 114.5)"><use href="#o"/><text y="4.5">A</text></g>
<g id="c19" class="b" transform="translate(876.7 94)"><use href="#o"/><text y="4.5">N</text></g>
<g id="c20" class="r" transform="translate(876.7 73.5)"><use href="#o"/><text y="4.5">D</text></g>
<g id="c21" class="r" transform="translate(876.7 53)"><use href="#o"/><text y="4.5">D</text></g>
<g id="c22" class="r" transform="translate(876.7 33)"><use href="#o"/><text y="4.5">D</text></g>
<g id="c23" class="r" transform="translate(886.4 18)"><use href="#o"/><text y="4.5">D</text></g>
<g id="c24" class="r" transform="translate(896 33)"><use href="#o"/><text y="4.5">D</text></g>
<g id="c25" class="b" transform="translate(896 53)"><use href="#o"/><text y="4.5">T</text></g>
<g id="c26" class="r" transform="translate(896 73.5)"><use href="#o"/><text y="4.5">E</text></g>
<g id="c27" class="k" transform="translate(896 94)"><use href="#o"/><text y="4.5">G</text></g>
<g id="c28" class="r" transform="translate(896 114.5)"><use href="#o"/><text y="4.5">D</text></g>
<g id="c29" class="b" transform="translate(896 135)"><use href="#o"/><text y="4.5">P</text></g>
<g id="c30" class="k" transform="translate(905.6 151)"><use href="#o"/><text y="4.5">I</text></g>
<g id="c31" class="k" transform="translate(915.2 135)"><use href="#o"/><text y="4.5">M</text></g>
<g id="c32" class="r" transform="translate(915.2 114.5)"><use href="#o"/><text y="4.5">E</text></g>
<g id="c33" class="k" transform="translate(915.2 94)"><use href="#o"/><text y="4.5">I</text></g>
<g id="c34" class="r" transform="translate(915.2 73.5)"><use href="#o"/><text y="4.5">E</text></g>
<g id="c35" class="b" transform="translate(915.2 53)"><use href="#o"/><text y="4.5">N</text></g>
<g id="c36" class="k" transform="translate(915.2 33)"><use href="#o"/><text y="4.5">G</text></g>
<g id="c37" class="b" transform="translate(924.8 18)"><use href="#o"/><text y="4.5">T</text></g>
<g id="c38" class="k" transform="translate(934.4 33)"><use href="#o"/><text y="4.5">G</text></g>
<g id="c39" class="b" transform="translate(934.4 53)"><use href="#o"/><text y="4.5">P</text></g>
<g id="c40" class="d" transform="translate(934.4 73.5)"><use href="#o"/><text y="4.5">R</text></g>
<g id="c41" class="d" transform="translate(934.4 94)"><use href="#o"/><text y="4.5">R</text></g>
<g id="c42" class="k" transform="translate(934.4 114.5)"><use href="#o"/><text y="4.5">F</text></g>
<g id="c43" class="k" transform="translate(934.4 135)"><use href="#o"/><text y="4.5">A</text></g>
<g id="c44" class="b" transform="translate(944 151)"><use href="#o"/><text y="4.5">Y</text></g>
<g id="c45" class="d" transform="translate(953.6 135)"><use href="#o"/><text y="4.5">H</text></g>
<g id="c46" class="k" transform="translate(953.6 114.5)"><use href="#o"/><text y="4.5">V</text></g>
<g id="c47" class="k" transform="translate(953.6 94)"><use href="#o"/><text y="4.5">L</text></g>
<g id="c48" class="k" transform="translate(953.6 73.5)"><use href="#o"/><text y="4.5">V</text></g>
<g id="c49" class="b" transform="translate(953.6 53)"><use href="#o"/><text y="4.5">N</text></g>
<g id="c50" class="k" transform="translate(953.6 33)"><use href="#o"/><text y="4.5">A</text></g>
<g id="c51" class="b" transform="translate(963.2 18)"><use href="#o"/><text y="4.5">T</text></g>
<g id="c52" class="d" transform="translate(972.8 33)"><use href="#o"/><text y="4.5">K</text></g>
<g id="c53" class="b" transform="translate(972.8 53)"><use href="#o"/><text y="4.5">S</text></g>
<g id="c54" class="k" transform="translate(972.8 73.5)"><use href="#o"/><text y="4.5">F</text></g>
<g id="c55" class="k" transform="translate(972.8 94)"><use href="#o"/><text y="4.5">A</text></g>
<g id="c56" class="k" transform="translate(972.8 114.5)"><use href="#o"/><text y="4.5">A</text></g>
<g id="c57" class="r" transform="translate(972.8 135)"><use href="#o"/><text y="4.5">E</text></g>
<g id="c58" class="r" transform="translate(982.5 151)"><use href="#o"/><text y="4.5">E</text></g>
<g id="c59" class="d" transform="translate(992.1 135)"><use href="#o"/><text y="4.5">K</text></g>
<g id="c60" class="k" transform="translate(992.1 114.5)"><use href="#o"/><text y="4.5">L</text></g>
<g id="c61" class="k" transform="translate(992.1 94)"><use href="#o"/><text y="4.5">G</text></g>
<g id="c62" class="b" transform="translate(992.1 73.5)"><use href="#o"/><text y="4.5">Q</text></g>
<g id="c63" class="k" transform="translate(992.1 53)"><use href="#o"/><text y="4.5">G</text></g>
<g id="c64" class="k" transform="translate(992.1 33)"><use href="#o"/><text y="4.5">G</text></g>
<g id="c65" class="k" transform="translate(1001.7 18)"><use href="#o"/><text y="4.5">F</text></g>
<g id="c66" class="k" transform="translate(1011.3 33)"><use href="#o"/><text y="4.5">G</text></g>
<g id="c67" class="k" transform="translate(1011.3 53)"><use href="#o"/><text y="4.5">A</text></g>
<g id="c68" class="k" transform="translate(1011.3 73.5)"><use href="#o"/><text y="4.5">V</text></g>
<g id="c69" class="b" transform="translate(1011.3 94)"><use href="#o"/><text y="4.5">Y</text></g>
<g id="c70" class="d" transform="translate(1011.3 114.5)"><use href="#o"/><text y="4.5">R</text></g>
<g id="c71" class="k" transform="translate(1011.3 135)"><use href="#o"/><text y="4.5">G</text></g>
<g id="c72" class="b" transform="translate(1020.9 151)"><use href="#o"/><text y="4.5">Y</text></g>
<g id="c73" class="k" transform="translate(1030.5 135)"><use href="#o"/><text y="4.5">L</text></g>
<g id="c74" class="d" transform="translate(1030.5 114.5)"><use href="#o"/><text y="4.5">R</text></g>
<g id="c75" class="r" transform="translate(1030.5 94)"><use href="#o"/><text y="4.5">E</text></g>
<g id="c76" class="b" transform="translate(1030.5 73.5)"><use href="#o"/><text y="4.5">Q</text></g>
<g id="c77" class="k" transform="translate(1030.5 53)"><use href="#o"/><text y="4.5">G</text></g>
<g id="c78" class="k" transform="translate(1030.5 33)"><use href="#o"/><text y="4.5">L</text></g>
<g id="c79" class="k" transform="translate(1040.1 18)"><use href="#o"/><text y="4.5">A</text></g>
<g id="c80" class="k" transform="translate(1049.7 33)"><use href="#o"/><text y="4.5">V</text></g>
<g id="c81" class="k" transform="translate(1049.7 53)"><use href="#o"/><text y="4.5">A</text></g>
<g id="c82" class="k" transform="translate(1049.7 73.5)"><use href="#o"/><text y="4.5">I</text></g>
<g id="c83" class="d" transform="translate(1049.7 94)"><use href="#o"/><text y="4.5">K</text></g>
<g id="c84" class="d" transform="translate(1049.7 114.5)"><use href="#o"/><text y="4.5">R</text></g>
<g id="c85" class="k" transform="translate(1049.7 135)"><use href="#o"/><text y="4.5">F</text></g>
<g id="c86" class="k" transform="translate(1059.3 151)"><use href="#o"/><text y="4.5">I</text></g>
<g id="c87" class="d" transform="translate(1068.9 135)"><use href="#o"/><text y="4.5">K</text></g>
<g id="c88" class="r" transform="translate(1068.9 114.5)"><use href="#o"/><text y="4.5">D</text></g>
<g id="c89" class="b" transform="translate(1068.9 94)"><use href="#o"/><text y="4.5">S</text></g>
<g id="c90" class="b" transform="translate(1068.9 73.5)"><use href="#o"/><text y="4.5">S</text></g>
<g id="c91" class="b" transform="translate(1068.9 53)"><use href="#o"/><text y="4.5">N</text></g>
<g id="c92" class="b" transform="translate(1068.9 33)"><use href="#o"/><text y="4.5">Q</text></g>
<g id="c93" class="k" transform="translate(1078.6 18)"><use href="#o"/><text y="4.5">G</text></g>
<g id="c94" class="d" transform="translate(1088.2 33)"><use href="#o"/><text y="4.5">R</text></g>
<g id="c95" class="d" transform="translate(1088.2 53)"><use href="#o"/><text y="4.5">R</text></g>
<g id="c96" class="r" transform="translate(1088.2 73.5)"><use href="#o"/><text y="4.5">E</text></g>
<g id="c97" class="b" transform="translate(1088.2 94)"><use href="#o"/><text y="4.5">Y</text></g>
<g id="c98" class="d" transform="translate(1088.2 114.5)"><use href="#o"/><text y="4.5">K</text></g>
<g id="c99" class="b" transform="translate(1088.2 135)"><use href="#o"/><text y="4.5">S</text></g>
<g id="c100" class="r" transform="translate(1097.8 151)"><use href="#o"/><text y="4.5">E</text></g>
<g id="c101" class="k" transform="translate(1107.4 135)"><use href="#o"/><text y="4.5">I</text></g>
<g id="c102" class="d" transform="translate(1107.4 114.5)"><use href="#o"/><text y="4.5">K</text></g>
<g id="c103" class="k" transform="translate(1107.4 94)"><use href="#o"/><text y="4.5">V</text></g>
<g id="c104" class="k" transform="translate(1107.4 73.5)"><use href="#o"/><text y="4.5">I</text></g>
<g id="c105" class="b" transform="translate(1107.4 53)"><use href="#o"/><text y="4.5">S</text></g>
<g id="c106" class="d" transform="translate(1107.4 33)"><use href="#o"/><text y="4.5">R</text></g>
<g id="c107" class="k" transform="translate(1117 18)"><use href="#o"/><text y="4.5">L</text></g>
<g id="c108" class="d" transform="translate(1126.6 33)"><use href="#o"/><text y="4.5">R</text></g>
<g id="c109" class="d" transform="translate(1126.6 53)"><use href="#o"/><text y="4.5">H</text></g>
<g id="c110" class="d" transform="translate(1126.6 73.5)"><use href="#o"/><text y="4.5">R</text></g>
<g id="c111" class="b" transform="translate(1126.6 94)"><use href="#o"/><text y="4.5">N</text></g>
<g id="c112" class="k" transform="translate(1126.6 114.5)"><use href="#o"/><text y="4.5">L</text></g>
<g id="c113" class="k" transform="translate(1126.6 135)"><use href="#o"/><text y="4.5">V</text></g>
<g id="c114" class="b" transform="translate(1136.2 151)"><use href="#o"/><text y="4.5">Q</text></g>
<g id="c115" class="k" transform="translate(1145.8 135)"><use href="#o"/><text y="4.5">L</text></g>
<g id="c116" class="k" transform="translate(1145.8 114.5)"><use href="#o"/><text y="4.5">I</text></g>
<g id="c117" class="k" transform="translate(1145.8 94)"><use href="#o"/><text y="4.5">G</text></g>
<g id="c118" class="b" transform="translate(1145.8 73.5)"><use href="#o"/><text y="4.5">W</text></g>
<g id="c119" class="k" transform="translate(1145.8 53)"><use href="#o"/><text y="4.5">C</text></g>
<g id="c120" class="d" transform="translate(1145.8 33)"><use href="#o"/><text y="4.5">H</text></g>
<g id="c121" class="k" transform="translate(1155.4 18)"><use href="#o"/><text y="4.5">G</text></g>
<g id="c122" class="d" transform="translate(1165 33)"><use href="#o"/><text y="4.5">H</text></g>
<g id="c123" class="r" transform="translate(1165 53)"><use href="#o"/><text y="4.5">D</text></g>
<g id="c124" class="r" transform="translate(1165 73.5)"><use href="#o"/><text y="4.5">E</text></g>
<g id="c125" class="k" transform="translate(1165 94)"><use href="#o"/><text y="4.5">L</text></g>
<g id="c126" class="k" transform="translate(1165 114.5)"><use href="#o"/><text y="4.5">L</text></g>
<g id="c127" class="k" transform="translate(1165 135)"><use href="#o"/><text y="4.5">L</text></g>
<g id="c128" class="k" transform="translate(1174.7 151)"><use href="#o"/><text y="4.5">V</text></g>
<g id="c129" class="b" transform="translate(1184.3 135)"><use href="#o"/><text y="4.5">Y</text></g>
<g id="c130" class="r" transform="translate(1184.3 114.5)"><use href="#o"/><text y="4.5">E</text></g>
<g id="c131" class="k" transform="translate(1184.3 94)"><use href="#o"/><text y="4.5">L</text></g>
<g id="c132" class="k" transform="translate(1184.3 73.5)"><use href="#o"/><text y="4.5">V</text></g>
<g id="c133" class="b" transform="translate(1184.3 53)"><use href="#o"/><text y="4.5">P</text></g>
<g id="c134" class="b" transform="translate(1184.3 33)"><use href="#o"/><text y="4.5">N</text></g>
<g id="c135" class="d" transform="translate(1193.9 18)"><use href="#o"/><text y="4.5">R</text></g>
<g id="c136" class="b" transform="translate(1203.5 33)"><use href="#o"/><text y="4.5">S</text></g>
<g id="c137" class="k" transform="translate(1203.5 53)"><use href="#o"/><text y="4.5">L</text></g>
<g id="c138" class="r" transform="translate(1203.5 73.5)"><use href="#o"/><text y="4.5">D</text></g>
<g id="c139" class="k" transform="translate(1203.5 94)"><use href="#o"/><text y="4.5">I</text></g>
<g id="c140" class="d" transform="translate(1203.5 114.5)"><use href="#o"/><text y="4.5">H</text></g>
<g id="c141" class="k" transform="translate(1203.5 135)"><use href="#o"/><text y="4.5">L</text></g>
<g id="c142" class="d" transform="translate(1213.1 151)"><use href="#o"/><text y="4.5">H</text></g>
<g id="c143" class="k" transform="translate(1222.7 135)"><use href="#o"/><text y="4.5">G</text></g>
<g id="c144" class="b" transform="translate(1222.7 114.5)"><use href="#o"/><text y="4.5">N</text></g>
<g id="c145" class="k" transform="translate(1222.7 94)"><use href="#o"/><text y="4.5">G</text></g>
<g id="c146" class="b" transform="translate(1222.7 73.5)"><use href="#o"/><text y="4.5">T</text></g>
<g id="c147" class="k" transform="translate(1222.7 53)"><use href="#o"/><text y="4.5">F</text></g>
<g id="c148" class="k" transform="translate(1222.7 33)"><use href="#o"/><text y="4.5">L</text></g>
<g id="c149" class="b" transform="translate(1232.3 18)"><use href="#o"/><text y="4.5">T</text></g>
<g id="c150" class="b" transform="translate(1241.9 33)"><use href="#o"/><text y="4.5">W</text></g>
<g id="c151" class="b" transform="translate(1241.9 53)"><use href="#o"/><text y="4.5">P</text></g>
<g id="c152" class="k" transform="translate(1241.9 73.5)"><use href="#o"/><text y="4.5">M</text></g>
<g id="c153" class="d" transform="translate(1241.9 94)"><use href="#o"/><text y="4.5">R</text></g>
<g id="c154" class="k" transform="translate(1241.9 114.5)"><use href="#o"/><text y="4.5">V</text></g>
<g id="c155" class="d" transform="translate(1241.9 135)"><use href="#o"/><text y="4.5">K</text></g>
<g id="c156" class="k" transform="translate(1251.5 151)"><use href="#o"/><text y="4.5">I</text></g>
<g id="c157" class="k" transform="translate(1261.1 135)"><use href="#o"/><text y="4.5">I</text></g>
<g id="c158" class="k" transform="translate(1261.1 114.5)"><use href="#o"/><text y="4.5">L</text></g>
<g id="c159" class="k" transform="translate(1261.1 94)"><use href="#o"/><text y="4.5">G</text></g>
<g id="c160" class="k" transform="translate(1261.1 73.5)"><use href="#o"/><text y="4.5">L</text></g>
<g id="c161" class="k" transform="translate(1261.1 53)"><use href="#o"/><text y="4.5">G</text></g>
<g id="c162" class="b" transform="translate(1261.1 33)"><use href="#o"/><text y="4.5">S</text></g>
<g id="c163" class="k" transform="translate(1270.8 18)"><use href="#o"/><text y="4.5">A</text></g>
<g id="c164" class="k" transform="translate(1280.4 33)"><use href="#o"/><text y="4.5">L</text></g>
<g id="c165" class="k" transform="translate(1280.4 53)"><use href="#o"/><text y="4.5">F</text></g>
<g id="c166" class="b" transform="translate(1280.4 73.5)"><use href="#o"/><text y="4.5">Y</text></g>
<g id="c167" class="k" transform="translate(1280.4 94)"><use href="#o"/><text y="4.5">L</text></g>
<g id="c168" class="d" transform="translate(1280.4 114.5)"><use href="#o"/><text y="4.5">H</text></g>
<g id="c169" class="r" transform="translate(1280.4 135)"><use href="#o"/><text y="4.5">E</text></g>
<g id="c170" class="r" transform="translate(1290 151)"><use href="#o"/><text y="4.5">E</text></g>
<g id="c171" class="b" transform="translate(1299.6 135)"><use href="#o"/><text y="4.5">W</text></g>
<g id="c172" class="r" transform="translate(1299.6 114.5)"><use href="#o"/><text y="4.5">E</text></g>
<g id="c173" class="b" transform="translate(1299.6 94)"><use href="#o"/><text y="4.5">Q</text></g>
<g id="c174" class="k" transform="translate(1299.6 73.5)"><use href="#o"/><text y="4.5">C</text></g>
<g id="c175" class="k" transform="translate(1299.6 53)"><use href="#o"/><text y="4.5">V</text></g>
<g id="c176" class="k" transform="translate(1299.6 33)"><use href="#o"/><text y="4.5">V</text></g>
<g id="c177" class="d" transform="translate(1309.2 18)"><use href="#o"/><text y="4.5">H</text></g>
<g id="c178" class="d" transform="translate(1318.8 33)"><use href="#o"/><text y="4.5">R</text></g>
<g id="c179" class="r" transform="translate(1318.8 53)"><use href="#o"/><text y="4.5">D</text></g>
<g id="c180" class="k" transform="translate(1318.8 73.5)"><use href="#o"/><text y="4.5">I</text></g>
<g id="c181" class="d" transform="translate(1318.8 94)"><use href="#o"/><text y="4.5">K</text></g>
<g id="c182" class="b" transform="translate(1318.8 114.5)"><use href="#o"/><text y="4.5">P</text></g>
<g id="c183" class="b" transform="translate(1318.8 135)"><use href="#o"/><text y="4.5">S</text></g>
<g id="c184" class="b" transform="translate(1328.4 151)"><use href="#o"/><text y="4.5">N</text></g>
<g id="c185" class="k" transform="translate(1338 135)"><use href="#o"/><text y="4.5">V</text></g>
<g id="c186" class="k" transform="translate(1338 114.5)"><use href="#o"/><text y="4.5">M</text></g>
<g id="c187" class="k" transform="translate(1338 94)"><use href="#o"/><text y="4.5">L</text></g>
<g id="c188" class="r" transform="translate(1338 73.5)"><use href="#o"/><text y="4.5">D</text></g>
<g id="c189" class="r" transform="translate(1338 53)"><use href="#o"/><text y="4.5">E</text></g>
<g id="c190" class="b" transform="translate(1338 33)"><use href="#o"/><text y="4.5">S</text></g>
<g id="c191" class="k" transform="translate(1347.6 18)"><use href="#o"/><text y="4.5">F</text></g>
<g id="c192" class="b" transform="translate(1357.2 33)"><use href="#o"/><text y="4.5">N</text></g>
<g id="c193" class="k" transform="translate(1357.2 53)"><use href="#o"/><text y="4.5">A</text></g>
<g id="c194" class="d" transform="translate(1357.2 73.5)"><use href="#o"/><text y="4.5">K</text></g>
<g id="c195" class="k" transform="translate(1357.2 94)"><use href="#o"/><text y="4.5">L</text></g>
<g id="c196" class="k" transform="translate(1357.2 114.5)"><use href="#o"/><text y="4.5">G</text></g>
<g id="c197" class="r" transform="translate(1357.2 135)"><use href="#o"/><text y="4.5">D</text></g>
<g id="c198" class="k" transform="translate(1366.9 151)"><use href="#o"/><text y="4.5">F</text></g>
<g id="c199" class="k" transform="translate(1376.5 135)"><use href="#o"/><text y="4.5">G</text></g>
<g id="c200" class="k" transform="translate(1376.5 114.5)"><use href="#o"/><text y="4.5">L</text></g>
<g id="c201" class="k" transform="translate(1376.5 94)"><use href="#o"/><text y="4.5">A</text></g>
<g id="c202" class="d" transform="translate(1376.5 73.5)"><use href="#o"/><text y="4.5">R</text></g>
<g id="c203" class="k" transform="translate(1376.5 53)"><use href="#o"/><text y="4.5">F</text></g>
<g id="c204" class="k" transform="translate(1376.5 33)"><use href="#o"/><text y="4.5">I</text></g>
<g id="c205" class="r" transform="translate(1386.1 18)"><use href="#o"/><text y="4.5">D</text></g>
<g id="c206" class="d" transform="translate(1395.7 33)"><use href="#o"/><text y="4.5">H</text></g>
<g id="c207" class="k" transform="translate(1395.7 53)"><use href="#o"/><text y="4.5">I</text></g>
<g id="c208" class="k" transform="translate(1395.7 73.5)"><use href="#o"/><text y="4.5">V</text></g>
<g id="c209" class="k" transform="translate(1395.7 94)"><use href="#o"/><text y="4.5">G</text></g>
<g id="c210" class="k" transform="translate(1395.7 114.5)"><use href="#o"/><text y="4.5">M</text></g>
<g id="c211" class="b" transform="translate(1395.7 135)"><use href="#o"/><text y="4.5">Q</text></g>
<g id="c212" class="b" transform="translate(1405.3 151)"><use href="#o"/><text y="4.5">T</text></g>
<g id="c213" class="k" transform="translate(1414.9 135)"><use href="#o"/><text y="4.5">M</text></g>
<g id="c214" class="b" transform="translate(1414.9 114.5)"><use href="#o"/><text y="4.5">T</text></g>
<g id="c215" class="k" transform="translate(1414.9 94)"><use href="#o"/><text y="4.5">A</text></g>
<g id="c216" class="k" transform="translate(1414.9 73.5)"><use href="#o"/><text y="4.5">V</text></g>
<g id="c217" class="b" transform="translate(1414.9 53)"><use href="#o"/><text y="4.5">S</text></g>
<g id="c218" class="k" transform="translate(1414.9 33)"><use href="#o"/><text y="4.5">G</text></g>
<g id="c219" class="b" transform="translate(1424.5 18)"><use href="#o"/><text y="4.5">T</text></g>
<g id="c220" class="b" transform="translate(1434.1 33)"><use href="#o"/><text y="4.5">P</text></g>
<g id="c221" class="k" transform="translate(1434.1 53)"><use href="#o"/><text y="4.5">G</text></g>
<g id="c222" class="b" transform="translate(1434.1 73.5)"><use href="#o"/><text y="4.5">Y</text></g>
<g id="c223" class="k" transform="translate(1434.1 94)"><use href="#o"/><text y="4.5">V</text></g>
<g id="c224" class="r" transform="translate(1434.1 114.5)"><use href="#o"/><text y="4.5">D</text></g>
<g id="c225" class="b" transform="translate(1434.1 135)"><use href="#o"/><text y="4.5">P</text></g>
<g id="c226" class="r" transform="translate(1443.7 151)"><use href="#o"/><text y="4.5">E</text></g>
<g id="c227" class="k" transform="translate(1453.3 135)"><use href="#o"/><text y="4.5">C</text></g>
<g id="c228" class="k" transform="translate(1453.3 114.5)"><use href="#o"/><text y="4.5">V</text></g>
<g id="c229" class="k" transform="translate(1453.3 94)"><use href="#o"/><text y="4.5">I</text></g>
<g id="c230" class="b" transform="translate(1453.3 73.5)"><use href="#o"/><text y="4.5">T</text></g>
<g id="c231" class="k" transform="translate(1453.3 53)"><use href="#o"/><text y="4.5">G</text></g>
<g id="c232" class="d" transform="translate(1453.3 33)"><use href="#o"/><text y="4.5">R</text></g>
<g id="c233" class="k" transform="translate(1463 18)"><use href="#o"/><text y="4.5">A</text></g>
<g id="c234" class="b" transform="translate(1472.6 33)"><use href="#o"/><text y="4.5">S</text></g>
<g id="c235" class="k" transform="translate(1472.6 53)"><use href="#o"/><text y="4.5">A</text></g>
<g id="c236" class="r" transform="translate(1472.6 73.5)"><use href="#o"/><text y="4.5">E</text></g>
<g id="c237" class="b" transform="translate(1472.6 94)"><use href="#o"/><text y="4.5">S</text></g>
<g id="c238" class="r" transform="translate(1472.6 114.5)"><use href="#o"/><text y="4.5">D</text></g>
<g id="c239" class="k" transform="translate(1472.6 135)"><use href="#o"/><text y="4.5">V</text></g>
<g id="c240" class="b" transform="translate(1482.2 151)"><use href="#o"/><text y="4.5">Y</text></g>
<g id="c241" class="b" transform="translate(1491.8 135)"><use href="#o"/><text y="4.5">S</text></g>
<g id="c242" class="k" transform="translate(1491.8 114.5)"><use href="#o"/><text y="4.5">F</text></g>
<g id="c243" class="k" transform="translate(1491.8 94)"><use href="#o"/><text y="4.5">G</text></g>
<g id="c244" class="k" transform="translate(1491.8 73.5)"><use href="#o"/><text y="4.5">I</text></g>
<g id="c245" class="k" transform="translate(1491.8 53)"><use href="#o"/><text y="4.5">V</text></g>
<g id="c246" class="k" transform="translate(1491.8 33)"><use href="#o"/><text y="4.5">L</text></g>
<g id="c247" class="k" transform="translate(1501.4 18)"><use href="#o"/><text y="4.5">L</text></g>
<g id="c248" class="r" transform="translate(1511 33)"><use href="#o"/><text y="4.5">E</text></g>
<g id="c249" class="k" transform="translate(1511 53)"><use href="#o"/><text y="4.5">V</text></g>
<g id="c250" class="k" transform="translate(1511 73.5)"><use href="#o"/><text y="4.5">A</text></g>
<g id="c251" class="k" transform="translate(1511 94)"><use href="#o"/><text y="4.5">C</text></g>
<g id="c252" class="k" transform="translate(1511 114.5)"><use href="#o"/><text y="4.5">G</text></g>
<g id="c253" class="d" transform="translate(1511 135)"><use href="#o"/><text y="4.5">R</text></g>
<g id="c254" class="d" transform="translate(1520.6 151)"><use href="#o"/><text y="4.5">R</text></g>
<g id="c255" class="b" transform="translate(1530.2 135)"><use href="#o"/><text y="4.5">P</text></g>
<g id="c256" class="k" transform="translate(1530.2 114.5)"><use href="#o"/><text y="4.5">M</text></g>
<g id="c257" class="b" transform="translate(1530.2 94)"><use href="#o"/><text y="4.5">S</text></g>
<g id="c258" class="k" transform="translate(1530.2 73.5)"><use href="#o"/><text y="4.5">L</text></g>
<g id="c259" class="k" transform="translate(1530.2 53)"><use href="#o"/><text y="4.5">L</text></g>
<g id="c260" class="r" transform="translate(1530.2 33)"><use href="#o"/><text y="4.5">D</text></g>
<g id="c261" class="b" transform="translate(1539.8 18)"><use href="#o"/><text y="4.5">S</text></g>
<g id="c262" class="b" transform="translate(1549.4 33)"><use href="#o"/><text y="4.5">Q</text></g>
<g id="c263" class="d" transform="translate(1549.4 53)"><use href="#o"/><text y="4.5">K</text></g>
<g id="c264" class="b" transform="translate(1549.4 73.5)"><use href="#o"/><text y="4.5">N</text></g>
<g id="c265" class="k" transform="translate(1549.4 94)"><use href="#o"/><text y="4.5">G</text></g>
<g id="c266" class="k" transform="translate(1549.4 114.5)"><use href="#o"/><text y="4.5">I</text></g>
<g id="c267" class="k" transform="translate(1549.4 135)"><use href="#o"/><text y="4.5">F</text></g>
<g id="c268" class="d" transform="translate(1559.1 151)"><use href="#o"/><text y="4.5">R</text></g>
<g id="c269" class="k" transform="translate(1568.7 135)"><use href="#o"/><text y="4.5">L</text></g>
<g id="c270" class="k" transform="translate(1568.7 114.5)"><use href="#o"/><text y="4.5">V</text></g>
<g id="c271" class="r" transform="translate(1568.7 94)"><use href="#o"/><text y="4.5">E</text></g>
<g id="c272" class="b" transform="translate(1568.7 73.5)"><use href="#o"/><text y="4.5">W</text></g>
<g id="c273" class="k" transform="translate(1568.7 53)"><use href="#o"/><text y="4.5">A</text></g>
<g id="c274" class="b" transform="translate(1568.7 33)"><use href="#o"/><text y="4.5">W</text></g>
<g id="c275" class="r" transform="translate(1578.3 18)"><use href="#o"/><text y="4.5">D</text></g>
<g id="c276" class="k" transform="translate(1587.9 33)"><use href="#o"/><text y="4.5">L</text></g>
<g id="c277" class="b" transform="translate(1587.9 53)"><use href="#o"/><text y="4.5">Y</text></g>
<g id="c278" class="k" transform="translate(1587.9 73.5)"><use href="#o"/><text y="4.5">G</text></g>
<g id="c279" class="d" transform="translate(1587.9 94)"><use href="#o"/><text y="4.5">K</text></g>
<g id="c280" class="k" transform="translate(1587.9 114.5)"><use href="#o"/><text y="4.5">G</text></g>
<g id="c281" class="r" transform="translate(1587.9 135)"><use href="#o"/><text y="4.5">D</text></g>
<g id="c282" class="k" transform="translate(1597.5 151)"><use href="#o"/><text y="4.5">I</text></g>
<g id="c283" class="k" transform="translate(1607.1 135)"><use href="#o"/><text y="4.5">L</text></g>
<g id="c284" class="k" transform="translate(1607.1 114.5)"><use href="#o"/><text y="4.5">M</text></g>
<g id="c285" class="k" transform="translate(1607.1 94)"><use href="#o"/><text y="4.5">A</text></g>
<g id="c286" class="k" transform="translate(1607.1 73.5)"><use href="#o"/><text y="4.5">A</text></g>
<g id="c287" class="r" transform="translate(1607.1 53)"><use href="#o"/><text y="4.5">D</text></g>
<g id="c288" class="r" transform="translate(1607.1 33)"><use href="#o"/><text y="4.5">E</text></g>
<g id="c289" class="d" transform="translate(1616.7 18)"><use href="#o"/><text y="4.5">R</text></g>
<g id="c290" class="k" transform="translate(1626.3 33)"><use href="#o"/><text y="4.5">L</text></g>
<g id="c291" class="b" transform="translate(1626.3 53)"><use href="#o"/><text y="4.5">N</text></g>
<g id="c292" class="k" transform="translate(1626.3 73.5)"><use href="#o"/><text y="4.5">G</text></g>
<g id="c293" class="r" transform="translate(1626.3 94)"><use href="#o"/><text y="4.5">D</text></g>
<g id="c294" class="b" transform="translate(1626.3 114.5)"><use href="#o"/><text y="4.5">Y</text></g>
<g id="c295" class="r" transform="translate(1626.3 135)"><use href="#o"/><text y="4.5">D</text></g>
<g id="c296" class="k" transform="translate(1635.9 151)"><use href="#o"/><text y="4.5">A</text></g>
<g id="c297" class="k" transform="translate(1645.5 135)"><use href="#o"/><text y="4.5">A</text></g>
<g id="c298" class="r" transform="translate(1645.5 114.5)"><use href="#o"/><text y="4.5">E</text></g>
<g id="c299" class="k" transform="translate(1645.5 94)"><use href="#o"/><text y="4.5">M</text></g>
<g id="c300" class="r" transform="translate(1645.5 73.5)"><use href="#o"/><text y="4.5">E</text></g>
<g id="c301" class="d" transform="translate(1645.5 53)"><use href="#o"/><text y="4.5">R</text></g>
<g id="c302" class="k" transform="translate(1645.5 33)"><use href="#o"/><text y="4.5">V</text></g>
<g id="c303" class="k" transform="translate(1655.2 18)"><use href="#o"/><text y="4.5">I</text></g>
<g id="c304" class="k" transform="translate(1664.8 33)"><use href="#o"/><text y="4.5">V</text></g>
<g id="c305" class="k" transform="translate(1664.8 53)"><use href="#o"/><text y="4.5">I</text></g>
<g id="c306" class="k" transform="translate(1664.8 73.5)"><use href="#o"/><text y="4.5">G</text></g>
<g id="c307" class="k" transform="translate(1664.8 94)"><use href="#o"/><text y="4.5">L</text></g>
<g id="c308" class="b" transform="translate(1664.8 114.5)"><use href="#o"/><text y="4.5">W</text></g>
<g id="c309" class="k" transform="translate(1664.8 135)"><use href="#o"/><text y="4.5">C</text></g>
<g id="c310" class="k" transform="translate(1674.4 151)"><use href="#o"/><text y="4.5">A</text></g>
<g id="c311" class="d" transform="translate(1684 135)"><use href="#o"/><text y="4.5">H</text></g>
<g id="c312" class="b" transform="translate(1684 114.5)"><use href="#o"/><text y="4.5">P</text></g>
<g id="c313" class="r" transform="translate(1684 94)"><use href="#o"/><text y="4.5">D</text></g>
<g id="c314" class="b" transform="translate(1684 73.5)"><use href="#o"/><text y="4.5">P</text></g>
<g id="c315" class="b" transform="translate(1684 53)"><use href="#o"/><text y="4.5">N</text></g>
<g id="c316" class="k" transform="translate(1684 33)"><use href="#o"/><text y="4.5">A</text></g>
<g id="c317" class="d" transform="translate(1693.6 18)"><use href="#o"/><text y="4.5">R</text></g>
<g id="c318" class="b" transform="translate(1703.2 33)"><use href="#o"/><text y="4.5">P</text></g>
<g id="c319" class="b" transform="translate(1703.2 53)"><use href="#o"/><text y="4.5">S</text></g>
<g id="c320" class="k" transform="translate(1703.2 73.5)"><use href="#o"/><text y="4.5">I</text></g>
<g id="c321" class="d" transform="translate(1703.2 94)"><use href="#o"/><text y="4.5">R</text></g>
<g id="c322" class="b" transform="translate(1703.2 114.5)"><use href="#o"/><text y="4.5">N</text></g>
<g id="c323" class="k" transform="translate(1703.2 135)"><use href="#o"/><text y="4.5">A</text></g>
<g id="c324" class="k" transform="translate(1712.8 151)"><use href="#o"/><text y="4.5">M</text></g>
<g id="c325" class="k" transform="translate(1722.4 135)"><use href="#o"/><text y="4.5">A</text></g>
<g id="c326" class="k" transform="translate(1722.4 114.5)"><use href="#o"/><text y="4.5">M</text></g>
<g id="c327" class="k" transform="translate(1722.4 94)"><use href="#o"/><text y="4.5">L</text></g>
<g id="c328" class="b" transform="translate(1722.4 73.5)"><use href="#o"/><text y="4.5">Q</text></g>
<g id="c329" class="b" transform="translate(1722.4 53)"><use href="#o"/><text y="4.5">S</text></g>
<g id="c330" class="k" transform="translate(1722.4 33)"><use href="#o"/><text y="4.5">G</text></g>
<g id="c331" class="k" transform="translate(1732 18)"><use href="#o"/><text y="4.5">G</text></g>
<g id="c332" class="b" transform="translate(1741.6 33)"><use href="#o"/><text y="4.5">Q</text></g>
<g id="c333" class="k" transform="translate(1741.6 53)"><use href="#o"/><text y="4.5">L</text></g>
<g id="c334" class="b" transform="translate(1741.6 73.5)"><use href="#o"/><text y="4.5">P</text></g>
<g id="c335" class="k" transform="translate(1741.6 94)"><use href="#o"/><text y="4.5">V</text></g>
<g id="c336" class="k" transform="translate(1741.6 114.5)"><use href="#o"/><text y="4.5">L</text></g>
<g id="c337" class="b" transform="translate(1741.6 135)"><use href="#o"/><text y="4.5">P</text></g>
<g id="c338" class="k" transform="translate(1751.3 151)"><use href="#o"/><text y="4.5">A</text></g>
<g id="c339" class="d" transform="translate(1760.9 135)"><use href="#o"/><text y="4.5">K</text></g>
<g id="c340" class="k" transform="translate(1760.9 114.5)"><use href="#o"/><text y="4.5">M</text></g>
<g id="c341" class="b" transform="translate(1760.9 94)"><use href="#o"/><text y="4.5">P</text></g>
<g id="c342" class="k" transform="translate(1760.9 73.5)"><use href="#o"/><text y="4.5">V</text></g>
<g id="c343" class="b" transform="translate(1760.9 53)"><use href="#o"/><text y="4.5">P</text></g>
<g id="c344" class="k" transform="translate(1760.9 33)"><use href="#o"/><text y="4.5">M</text></g>
<g id="c345" class="b" transform="translate(1770.5 18)"><use href="#o"/><text y="4.5">Y</text></g>
<g id="c346" class="k" transform="translate(1780.1 33)"><use href="#o"/><text y="4.5">I</text></g>
<g id="c347" class="b" transform="translate(1780.1 53)"><use href="#o"/><text y="4.5">P</text></g>
<g id="c348" class="b" transform="translate(1780.1 73.5)"><use href="#o"/><text y="4.5">P</text></g>
<g id="c349" class="k" transform="translate(1780.1 94)"><use href="#o"/><text y="4.5">V</text></g>
<g id="c350" class="k" transform="translate(1780.1 114.5)"><use href="#o"/><text y="4.5">V</text></g>
<g id="c351" class="b" transform="translate(1780.1 135)"><use href="#o"/><text y="4.5">S</text></g>
<g id="c352" class="k" transform="translate(1789.7 151)"><use href="#o"/><text y="4.5">V</text></g>
<g id="c353" class="r" transform="translate(1799.3 135)"><use href="#o"/><text y="4.5">D</text></g>
<g id="c354" class="r" transform="translate(1799.3 114.5)"><use href="#o"/><text y="4.5">E</text></g>
<g id="c355" class="k" transform="translate(1799.3 94)"><use href="#o"/><text y="4.5">L</text></g>
<g id="c356" class="k" transform="translate(1799.3 73.5)"><use href="#o"/><text y="4.5">F</text></g>
<g id="c357" class="b" transform="translate(1799.3 53)"><use href="#o"/><text y="4.5">T</text></g>
<g id="c358" class="b" transform="translate(1799.3 33)"><use href="#o"/><text y="4.5">S</text></g>
<g id="c359" class="b" transform="translate(1808.9 18)"><use href="#o"/><text y="4.5">P</text></g>
<g id="c360" class="k" transform="translate(1818.5 33)"><use href="#o"/><text y="4.5">A</text></g>
<g id="c361" class="k" transform="translate(1818.5 53)"><use href="#o"/><text y="4.5">G</text></g>
<g id="c362" class="k" transform="translate(1818.5 73.5)"><use href="#o"/><text y="4.5">M</text></g>
<g id="c363" class="b" transform="translate(1818.5 94)"><use href="#o"/><text y="4.5">S</text></g>
<g id="c364" class="b" transform="translate(1818.5 114.5)"><use href="#o"/><text y="4.5">S</text></g>
<g id="c365" class="b" transform="translate(1818.5 135)"><use href="#o"/><text y="4.5">S</text></g>
<g id="c366" class="b" transform="translate(1828.1 151)"><use href="#o"/><text y="4.5">S</text></g>
<g id="c367" class="k" transform="translate(1837.7 135)"><use href="#o"/><text y="4.5">A</text></g>
<g id="c368" class="b" transform="translate(1837.7 114.5)"><use href="#o"/><text y="4.5">T</text></g>
<g id="c369" class="b" transform="translate(1837.7 94)"><use href="#o"/><text y="4.5">Q</text></g>
<g id="c370" class="b" transform="translate(1837.7 73.5)"><use href="#o"/><text y="4.5">S</text></g>
<g id="c371" class="b" transform="translate(1837.7 53)"><use href="#o"/><text y="4.5">S</text></g>
<g id="c372" class="b" transform="translate(1837.7 33)"><use href="#o"/><text y="4.5">T</text></g>
<g id="c373" class="b" transform="translate(1847.3 18)"><use href="#o"/><text y="4.5">T</text></g>
<g id="c374" class="b" transform="translate(1856.9 33)"><use href="#o"/><text y="4.5">T</text></g>
</g>
</svg>
